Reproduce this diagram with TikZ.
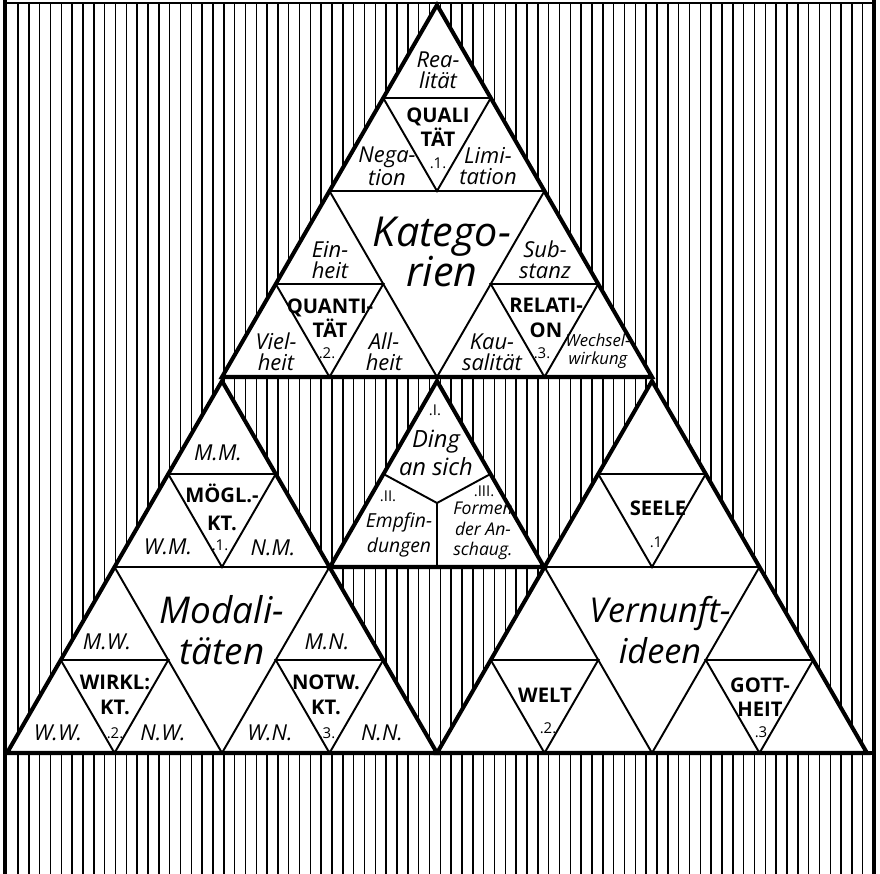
\documentclass[tikz,border=0pt]{standalone}
\usepackage{fontspec}
\setmainfont{Open Sans}
\usetikzlibrary{calc}

% midpoint triangle of three corners
\newcommand{\midtri}[3]{%
  \draw[thinline] ($(#1)!.5!(#2)$) -- ($(#2)!.5!(#3)$) -- ($(#3)!.5!(#1)$) -- cycle;}

% big triangle, name + apex, split twice
\newcommand{\bigtri}[3]{%
  \coordinate (#1a) at (#2,#3);
  \coordinate (#1l) at (#2-215,#3+372);
  \coordinate (#1r) at (#2+215,#3+372);
  \coordinate (#1al) at ($(#1a)!.5!(#1l)$);
  \coordinate (#1ar) at ($(#1a)!.5!(#1r)$);
  \coordinate (#1lr) at ($(#1l)!.5!(#1r)$);
  \fill[white] (#1a) -- (#1l) -- (#1r) -- cycle;
  \midtri{#1a}{#1l}{#1r}
  \midtri{#1a}{#1al}{#1ar}
  \midtri{#1al}{#1l}{#1lr}
  \midtri{#1ar}{#1lr}{#1r}
  \draw[outline] (#1a) -- (#1l) -- (#1r) -- cycle;}

\begin{document}
\begin{tikzpicture}[x=0.02cm, y=-0.02cm,
    outline/.style={line width=2.3pt, line join=miter},
    thinline/.style={line width=1.1pt},
    hatch/.style={line width=0.85pt},
    frame/.style={line width=2.2pt},
    smalltext/.style={inner sep=0pt, align=center, font=\itshape\fontsize{12.5}{12}\selectfont},
    tinytext/.style={inner sep=0pt, align=center, font=\itshape\fontsize{9.5}{10.5}\selectfont},
    captext/.style={inner sep=0pt, align=center, font=\bfseries\fontsize{11.5}{14}\selectfont},
    bigtext/.style={inner sep=0pt, align=center, font=\itshape\fontsize{21}{23}\selectfont},
    numtext/.style={inner sep=0pt, font=\fontsize{8.5}{9}\selectfont}]

    \useasboundingbox (0,0) rectangle (880,874);

    % background hatching
    \foreach \i in {0,...,78}
        \draw[hatch] ({18+\i*10.83},3) -- ({18+\i*10.83},874);
    \draw[hatch] (5,3) -- (874,3);
    \draw[frame] (5,0) -- (5,874);
    \draw[frame] (874,0) -- (874,874);
    \draw[outline] (5,753) -- (874,753);

    \bigtri{kat}{437}{5}
    \bigtri{mod}{222}{381}
    \bigtri{ver}{652}{381}

    % Ding an sich
    \coordinate (da) at (437,381);
    \coordinate (dl) at (330,567);
    \coordinate (dr) at (544,567);
    \coordinate (dc) at (437,503);
    \fill[white] (da) -- (dl) -- (dr) -- cycle;
    \draw[thinline] ($(da)!.5!(dl)$) -- (dc) -- ($(da)!.5!(dr)$);
    \draw[thinline] (dc) -- ($(dl)!.5!(dr)$);
    \draw[outline] (da) -- (dl) -- (dr) -- cycle;

    % Kategorien
    \node[smalltext] (real) at (438,70) {Rea-\\lität};
    \node[captext] (qual) at (438,127) {QUALI\\TÄT};
    \node[numtext] (qualn) at (438,163) {.1.};
    \node[smalltext] (neg) at (387,166) {Nega-\\tion};
    \node[smalltext] (lim) at (488,166) {Limi-\\tation};
    \node[bigtext, font=\itshape\fontsize{23.5}{23}\selectfont] (katname) at (442,252) {Katego-\\rien};
    \node[smalltext] (ein) at (330,260) {Ein-\\heit};
    \node[smalltext] (subst) at (545,260) {Sub-\\stanz};
    \node[captext] (quant) at (330,318) {QUANTI-\\TÄT};
    \node[numtext] (quantn) at (327,353) {.2.};
    \node[smalltext] (viel) at (276,352) {Viel-\\heit};
    \node[smalltext] (all) at (384,352) {All-\\heit};
    \node[captext] (rel) at (546,318) {RELATI-\\ON};
    \node[numtext] (reln) at (542,353) {.3.};
    \node[smalltext] (kaus) at (492,352) {Kau-\\salität};
    \node[tinytext] (wech) at (598,351) {Wechsel-\\wirkung};

    % Ding an sich
    \node[numtext] (dingn) at (435,410) {.I.};
    \node[inner sep=0pt, align=center, font=\itshape\fontsize{13.5}{15.5}\selectfont] (ding) at (436,453) {Ding\\an sich};
    \node[numtext] (empn) at (388,496) {.II.};
    \node[inner sep=0pt, align=center, font=\itshape\fontsize{11}{14}\selectfont] (emp) at (399,535) {Empfin-\\dungen};
    \node[numtext] (formn) at (484,491) {.III.};
    \node[inner sep=0pt, align=center, font=\itshape\fontsize{10}{11.5}\selectfont] (form) at (483,531) {Formen\\der An-\\schaug.};

    % Modalitaeten
    \node[smalltext] (mm) at (218,453) {M.M.};
    \node[captext, font=\bfseries\fontsize{11.5}{16}\selectfont] (moegl) at (222,507) {MÖGL.-\\KT.};
    \node[numtext] (moegln) at (220,545) {.1.};
    \node[smalltext] (wm) at (168,547) {W.M.};
    \node[smalltext] (nm) at (273,548) {N.M.};
    \node[bigtext] (modname) at (222,630) {Modali-\\täten};
    \node[smalltext] (mw) at (107,642) {M.W.};
    \node[smalltext] (mn) at (327,642) {M.N.};
    \node[captext] (wirkl) at (115,695) {WIRKL:\\KT.};
    \node[numtext] (wirkln) at (115,733) {.2.};
    \node[smalltext] (ww) at (58,733) {W.W.};
    \node[smalltext] (nw) at (163,733) {N.W.};
    \node[captext] (notw) at (326,695) {NOTW.\\KT.};
    \node[numtext] (notwn) at (327,733) {.3.};
    \node[smalltext] (wn) at (270,733) {W.N.};
    \node[smalltext] (nn) at (382,733) {N.N.};

    % Vernunftideen
    \node[captext] (seele) at (658,508) {SEELE};
    \node[numtext] (seelen) at (658,542) {.1.};
    \node[bigtext, font=\itshape\fontsize{19.5}{23}\selectfont] (vername) at (660,630) {Vernunft-\\ideen};
    \node[captext] (welt) at (545,695) {WELT};
    \node[numtext] (weltn) at (548,728) {.2.};
    \node[captext] (gott) at (760,697) {GOTT-\\HEIT};
    \node[numtext] (gottn) at (763,732) {.3.};
\end{tikzpicture}
\end{document}
